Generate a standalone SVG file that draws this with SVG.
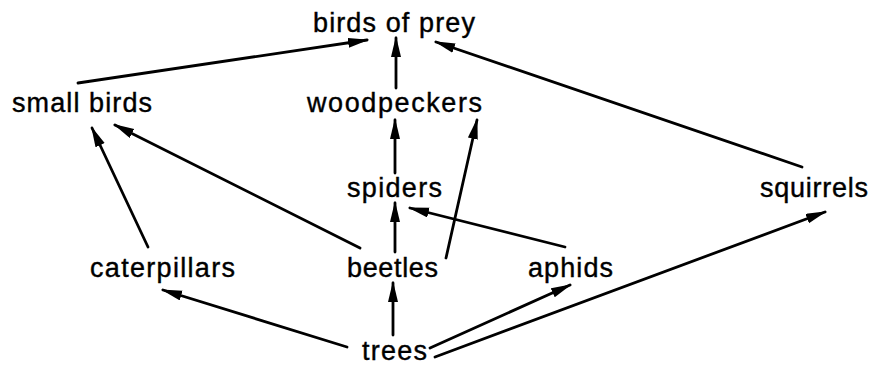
<svg xmlns="http://www.w3.org/2000/svg" width="878" height="368" viewBox="0 0 878 368">
<style>
text{font-family:"Liberation Sans",Arial,Helvetica,sans-serif;font-size:27px;fill:#000;stroke:#000;stroke-width:0.4;}
.e line{stroke:#000;stroke-width:2.8;stroke-linecap:round;marker-end:url(#ah);}
</style>
<defs>
<marker id="ah" markerUnits="userSpaceOnUse" markerWidth="22" markerHeight="12" viewBox="0 0 22 12" refX="19" refY="5" orient="auto">
<path d="M0,0 L21,5 L0,10 z" fill="#000"/>
</marker>
</defs>
<rect width="878" height="368" fill="#fff"/>
<g id="connectors" class="e">
<line x1="78" y1="83" x2="367" y2="40"/>
<line x1="396" y1="88" x2="396" y2="38"/>
<line x1="802" y1="167" x2="436" y2="42"/>
<line x1="395" y1="173" x2="395" y2="120"/>
<line x1="446" y1="258" x2="477" y2="120"/>
<line x1="395" y1="252" x2="395" y2="203"/>
<line x1="565" y1="247" x2="410" y2="208"/>
<line x1="360" y1="248" x2="115" y2="125"/>
<line x1="148" y1="247" x2="92" y2="128"/>
<line x1="347" y1="347" x2="163" y2="290"/>
<line x1="393" y1="335" x2="393" y2="283"/>
<line x1="430" y1="348" x2="570" y2="285"/>
<line x1="435" y1="357" x2="825" y2="212"/>
</g>
<g id="birds-of-prey"><text x="313" y="32" textLength="162" lengthAdjust="spacing">birds of prey</text></g>
<g id="small-birds"><text x="12" y="112" textLength="140" lengthAdjust="spacing">small birds</text></g>
<g id="woodpeckers"><text x="307" y="112" textLength="175" lengthAdjust="spacing">woodpeckers</text></g>
<g id="spiders"><text x="347" y="197" textLength="95" lengthAdjust="spacing">spiders</text></g>
<g id="squirrels"><text x="760" y="197" textLength="108" lengthAdjust="spacing">squirrels</text></g>
<g id="caterpillars"><text x="90" y="277" textLength="145" lengthAdjust="spacing">caterpillars</text></g>
<g id="beetles"><text x="347" y="277" textLength="91" lengthAdjust="spacing">beetles</text></g>
<g id="aphids"><text x="528" y="277" textLength="85" lengthAdjust="spacing">aphids</text></g>
<g id="trees"><text x="362" y="360" textLength="65" lengthAdjust="spacing">trees</text></g>
</svg>
